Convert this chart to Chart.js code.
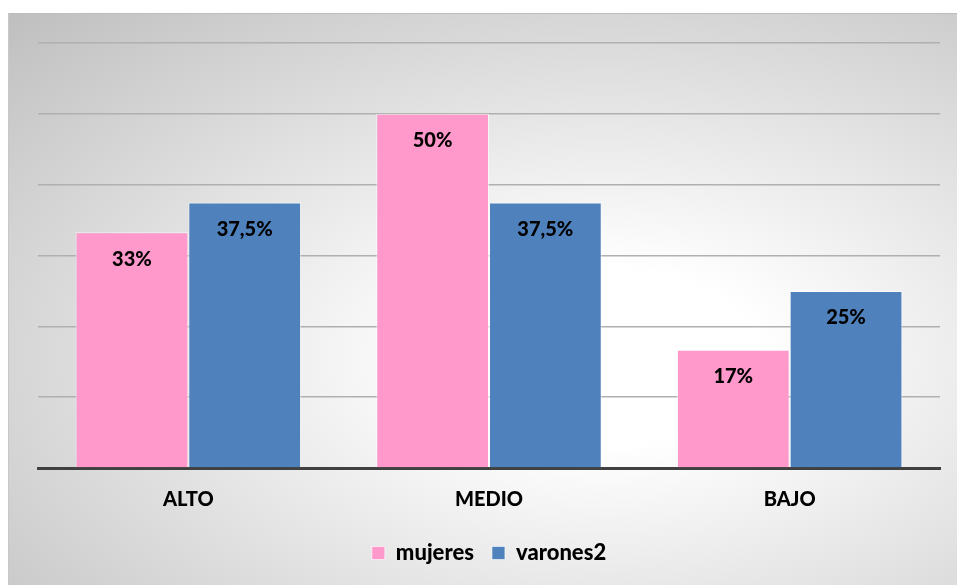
<!DOCTYPE html>
<html>
<head>
<meta charset="utf-8">
<script src="https://cdn.jsdelivr.net/npm/chart.js@4.4.1/dist/chart.umd.min.js"></script>
<style>
  html, body { margin: 0; padding: 0; background: #fff; }
  #wrap { position: relative; width: 957px; height: 585px; overflow: hidden; }
  #bg {
    position: absolute; left: 8px; top: 13px; width: 949px; height: 572px;
    border-top: 1px solid #bdbdbd; border-left: 1px solid #c8c8c8;
    background: radial-gradient(ellipse farthest-corner at 63% 60%, #ffffff 0%, #ffffff 18%, #bfbfbf 100%);
  }
  canvas { position: absolute; left: 0; top: 0; }
</style>
</head>
<body>
<div id="wrap">
  <div id="bg"></div>
  <canvas id="chart" width="957" height="585"></canvas>
</div>
<script>
// ── Data ──
const categories = ["ALTO", "MEDIO", "BAJO"];
const mujeres = [33.3, 50, 16.7];
const varones = [37.5, 37.5, 25];
const mujeresLabels = ["33%", "50%", "17%"];
const varonesLabels = ["37,5%", "37,5%", "25%"];

const PINK = "#ff99cc", BLUE = "#4f81bd";
const FONT = "Lato, 'Open Sans', sans-serif";

// value labels drawn near the top inside each bar
const barLabels = {
  id: "barLabels",
  afterDatasetsDraw(chart) {
    const ctx = chart.ctx;
    ctx.save();
    ctx.font = "900 20px " + FONT;
    ctx.fillStyle = "#000";
    ctx.textAlign = "center";
    ctx.textBaseline = "middle";
    chart.data.datasets.forEach((ds, i) => {
      chart.getDatasetMeta(i).data.forEach((bar, j) => {
        ctx.fillText(ds.labelsText[j], bar.x, bar.y + 27);
      });
    });
    ctx.restore();
  }
};

new Chart(document.getElementById("chart"), {
  type: "bar",
  data: {
    labels: categories,
    datasets: [
      { label: "mujeres", data: mujeres, labelsText: mujeresLabels, backgroundColor: PINK,
        borderColor: "rgba(255,255,255,0.6)", borderWidth: 1 },
      { label: "varones2", data: varones, labelsText: varonesLabels, backgroundColor: BLUE,
        borderColor: "rgba(255,255,255,0.6)", borderWidth: 1 }
    ]
  },
  options: {
    responsive: false,
    animation: false,
    layout: { padding: { left: 38, right: 17, top: 43, bottom: 11 } },
    datasets: { bar: { categoryPercentage: 0.75, barPercentage: 1 } },
    plugins: {
      legend: {
        position: "bottom",
        labels: {
          color: "#000",
          font: { family: FONT, size: 22, weight: "900" },
          boxWidth: 13, boxHeight: 13, padding: 18
        }
      },
      tooltip: { enabled: false }
    },
    scales: {
      x: {
        grid: { display: false },
        border: { display: true, color: "#404040", width: 3 },
        ticks: { color: "#000", font: { family: FONT, size: 20, weight: "900" }, padding: 12 }
      },
      y: {
        min: 0, max: 60,
        ticks: { display: false, stepSize: 10 },
        border: { display: false },
        grid: { color: "#b0b0b0", lineWidth: 1.5, drawTicks: false }
      }
    }
  },
  plugins: [barLabels]
});
</script>
</body>
</html>
